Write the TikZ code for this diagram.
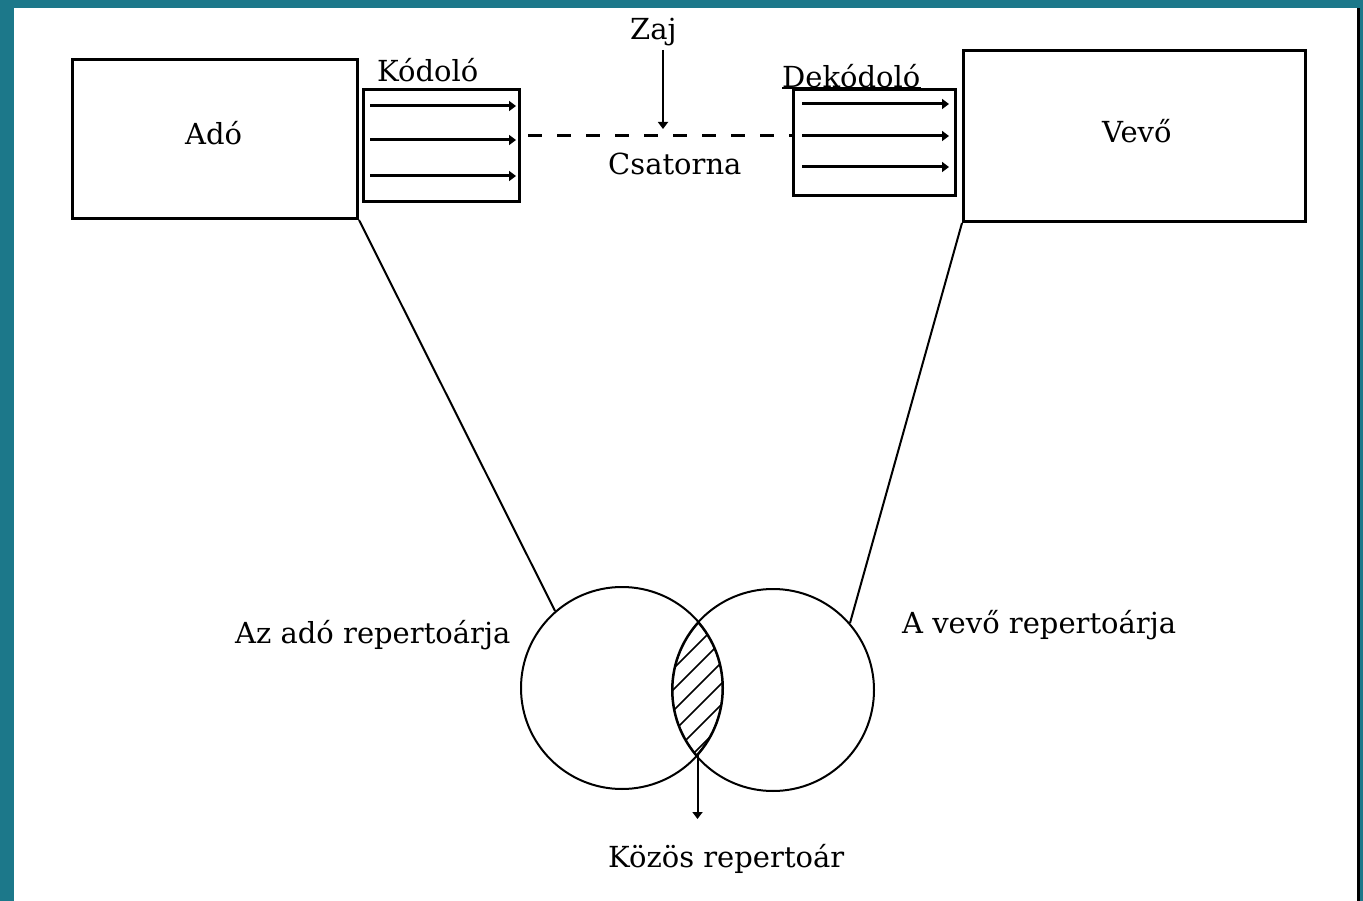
\documentclass[tikz,border=0pt]{standalone}
\usepackage{fontspec}
\setmainfont{DejaVu Serif}
\usetikzlibrary{arrows.meta}
\definecolor{frameteal}{RGB}{28,120,138}
\begin{document}
\begin{tikzpicture}[x=1pt,y=-1pt,
  box/.style={draw,line width=3pt,inner sep=0pt,rectangle},
  lbl/.style={inner sep=0pt,anchor=base west,font=\fontsize{29}{34}\selectfont},
  inarrow/.style={line width=3pt,-{Triangle[length=7pt,width=10pt]}},
  thin/.style={line width=2pt},
  ring/.style={circle,draw,line width=2pt,minimum size=202pt,inner sep=0pt}]
\useasboundingbox (0,0) rectangle (1363,901);
\fill[frameteal] (0,0) rectangle (1363,901);
\fill[white] (14,8) rectangle (1357,901);
\fill[black] (1357,8) rectangle (1360,901);

% boxes
\node[box,minimum width=285pt,minimum height=159pt] (ado) at (215,139) {};
\node[box,minimum width=156pt,minimum height=112pt] (kod) at (441.5,145.5) {};
\node[box,minimum width=162pt,minimum height=106pt] (dek) at (874.5,142.5) {};
\node[box,minimum width=342pt,minimum height=171pt] (vevo) at (1134.5,136) {};

% labels
\node[lbl] (adot) at (185,145) {Adó};
\node[lbl] (vevot) at (1102,143) {Vevő};
\node[lbl] (kodt) at (377,82) {Kódoló};
\node[lbl] (dekt) at (782,88) {Dekódoló};
\node[lbl] (zaj) at (630,40) {Zaj};
\node[lbl] (csat) at (608,175) {Csatorna};
\node[lbl] (adorep) at (235,643) {Az adó repertoárja};
\node[lbl] (vevorep) at (902,633) {A vevő repertoárja};
\node[lbl] (kozos) at (608,867) {Közös repertoár};
\draw[line width=2pt] (dekt.base west) -- (dekt.base east);

% arrows inside coder / decoder
\draw[inarrow] (370,106) -- (516,106);
\draw[inarrow] (370,140) -- (516,140);
\draw[inarrow] (370,176) -- (516,176);
\draw[inarrow] (802,104) -- (949,104);
\draw[inarrow] (802,136) -- (949,136);
\draw[inarrow] (802,167) -- (949,167);

% channel
\coordinate (ch) at (663,136);
\coordinate (zs) at (663,50);
\coordinate (ze) at (663,129);
\draw[line width=3pt,dash pattern=on 14pt off 15pt,shorten <=7pt] (kod.east |- ch) -- (dek.west |- ch);
\draw[thin,-{Triangle[length=7pt,width=10pt]}] (zs) -- (ze);

% repertoire circles
\node[ring] (lc) at (622,688) {};
\node[ring] (rc) at (773,690) {};
\begin{scope}
  \clip (lc.center) circle[radius=101pt];
  \clip (rc.center) circle[radius=101pt];
  \foreach \c in {540,561,...,860}
    \draw[line width=1.5pt] (590,\c+107) -- (810,\c-113);
  \draw[line width=3pt] (lc.center) circle[radius=101pt];
  \draw[line width=3pt] (rc.center) circle[radius=101pt];
\end{scope}

% connectors
\draw[thin] (ado.south east) -- (lc.131);
\draw[thin] (vevo.south west) -- (rc.41);
\coordinate (isb) at (697.5,755);
\coordinate (kz) at (697.5,819);
\draw[thin,-{Triangle[length=7pt,width=10pt]}] (isb) -- (kz);
\end{tikzpicture}
\end{document}
